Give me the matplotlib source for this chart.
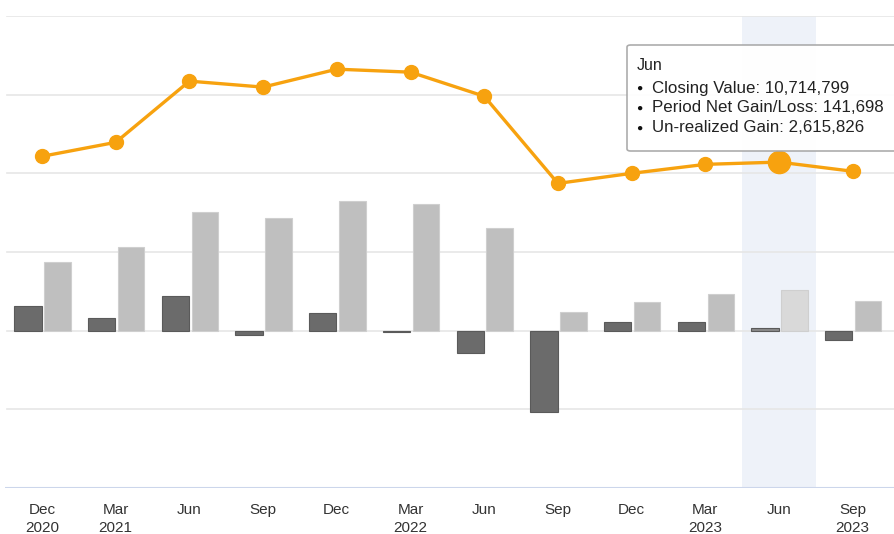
import matplotlib
matplotlib.use("Agg")
import matplotlib.pyplot as plt
from matplotlib.patches import FancyBboxPatch
import numpy as np

plt.rcParams['font.family'] = ['Liberation Sans', 'DejaVu Sans']

months = ["Dec", "Mar", "Jun", "Sep", "Dec", "Mar", "Jun", "Sep", "Dec", "Mar", "Jun", "Sep"]
years = ["2020", "2021", "", "", "", "2022", "", "", "", "2023", "", "2023"]

closing_value = [11.08e6, 11.97e6, 15.86e6, 15.48e6, 16.62e6, 16.43e6, 14.90e6, 9.36e6,
                 10.00e6, 10.57e6, 10.714799e6, 10.13e6]
net_gain = [1.55e6, 0.81e6, 2.18e6, -0.25e6, 1.10e6, -0.10e6, -1.43e6, -5.20e6,
            0.55e6, 0.55e6, 0.141698e6, -0.60e6]
unrealized = [4.37e6, 5.30e6, 7.53e6, 7.15e6, 8.26e6, 8.07e6, 6.50e6, 1.17e6,
              1.80e6, 2.36e6, 2.615826e6, 1.91e6]

hover_idx = 10
tooltip_title = "Jun"
tooltip_lines = ["Closing Value: 10,714,799",
                 "Period Net Gain/Loss: 141,698",
                 "Un-realized Gain: 2,615,826"]

W, H = 894, 534
fig = plt.figure(figsize=(W / 100, H / 100), dpi=100)
fig.patch.set_facecolor("white")

ax_left, ax_right = 5, 894
ax_top, ax_bottom = 16, 488
ax = fig.add_axes([ax_left / W, (H - ax_bottom) / H, (ax_right - ax_left) / W, (ax_bottom - ax_top) / H])
ax.set_facecolor("none")

x = np.arange(len(months))
ax.set_xlim(-0.502, 11.56)
ax.set_ylim(-10e6, 20e6)

# hover band
ax.axvspan(hover_idx - 0.5, hover_idx + 0.5, color="#eef2f9", zorder=0, lw=0)

# gridlines
for yv in np.arange(-5e6, 20.1e6, 5e6):
    ax.axhline(yv, color="#e6e6e6", lw=1.2, zorder=0.5, xmin=2 / 889)
ax.axhline(-10e6, color="#ccd6eb", lw=1.5, zorder=0.6)

dark_colors = ["#6b6b6b"] * len(months)
light_colors = ["#bfbfbf"] * len(months)
light_colors[hover_idx] = "#d9d9d9"
dark_colors[hover_idx] = "#8a8a8a"

ax.bar(x - 0.19, net_gain, width=0.37, color=dark_colors, edgecolor="#5a5a5a", linewidth=0.8, zorder=2)
ax.bar(x + 0.21, unrealized, width=0.36, color=light_colors, edgecolor="#cfcfcf", linewidth=0.8, zorder=2)

ax.plot(x, closing_value, color="#f7a20f", lw=2.4, marker="o", markersize=10,
        markerfacecolor="#f7a20f", markeredgecolor="#f7a20f", zorder=4)
ax.plot([x[hover_idx]], [closing_value[hover_idx]], marker="o", markersize=16,
        color="#f7a20f", zorder=5, lw=0)

for s in ax.spines.values():
    s.set_visible(False)
ax.set_yticks([])
ax.set_xticks(x)
labels = [m + ("\n" + y if y else "\n") for m, y in zip(months, years)]
ax.set_xticklabels(labels, fontsize=11, color="#333333", linespacing=1.3)
ax.tick_params(axis="x", length=0, pad=11)

# tooltip
tx0, ty0, tx1, ty1 = 627, 45, 905, 151
box = FancyBboxPatch(((tx0) / W, (H - ty1) / H), (tx1 - tx0) / W, (ty1 - ty0) / H,
                     boxstyle="round,pad=0,rounding_size=0.004",
                     transform=fig.transFigure, facecolor="white", edgecolor="#a8a8a8",
                     linewidth=1.2, alpha=0.95, zorder=10)
fig.patches.append(box)
fig.text(637 / W, (H - 66) / H, tooltip_title, fontsize=11.5, color="#222222", va="center", zorder=11)
for i, line in enumerate(tooltip_lines):
    yy = 88 + 20 * i
    fig.text(636 / W, (H - yy) / H, "\u25cf", fontsize=7.5, color="#111111", va="center", zorder=11)
    fig.text(652 / W, (H - yy) / H, line, fontsize=12.2, color="#222222", va="center", zorder=11)

fig.savefig("out.png", dpi=100)
